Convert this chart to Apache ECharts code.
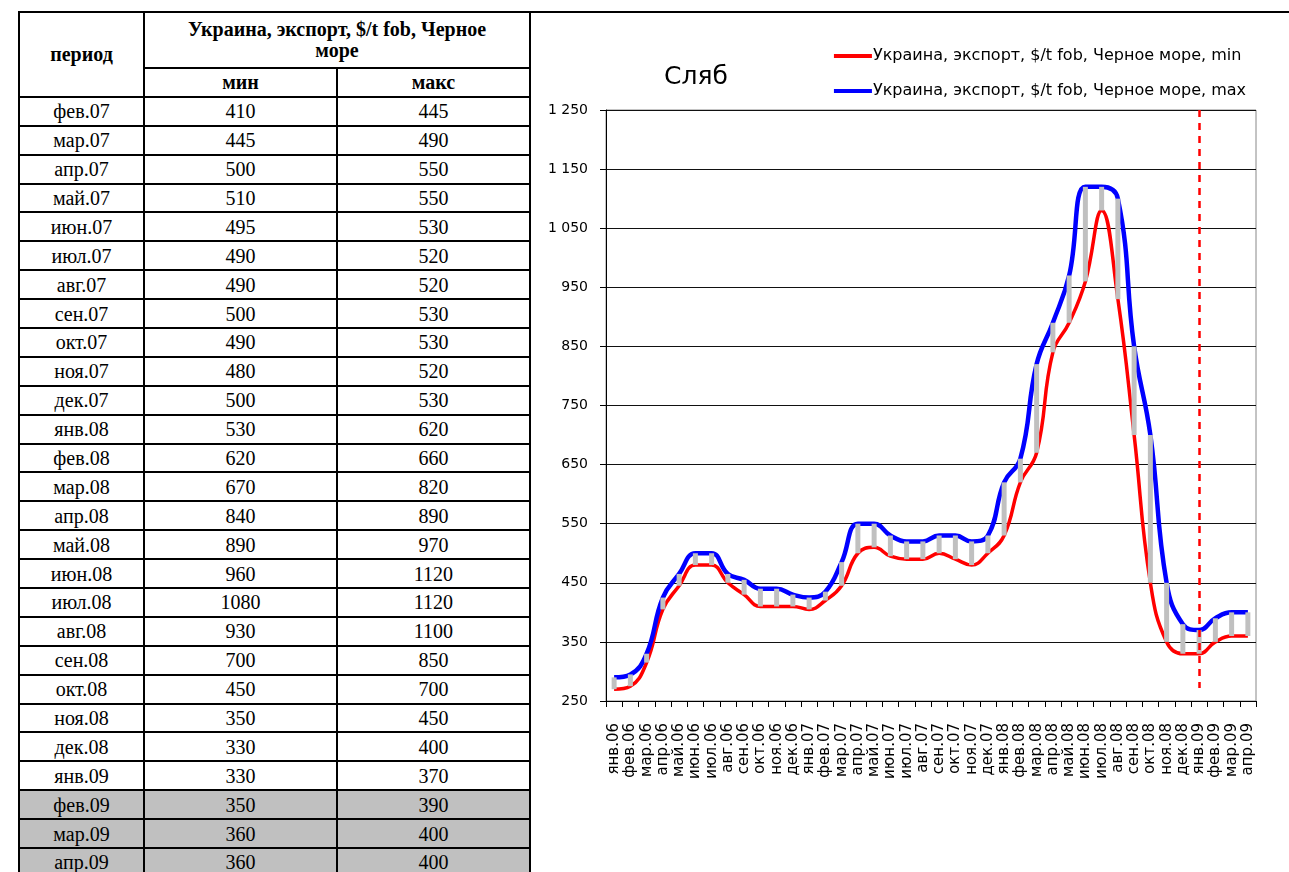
<!DOCTYPE html>
<html>
<head>
<meta charset="utf-8">
<title>Сляб</title>
<script src="https://cdn.jsdelivr.net/npm/echarts@6/dist/echarts.min.js"></script>
<style>
    html, body { margin: 0; padding: 0; background: #fff; }
    body { width: 1289px; height: 872px; position: relative; overflow: hidden; }
    #charts1 { position: absolute; left: 0; top: 0; width: 1289px; height: 872px; }
    .topline { position: absolute; left: 18px; top: 11px; width: 1271px; height: 2px; background: #000; z-index: 3; }
    table.data {
        position: absolute; left: 18px; top: 11px; z-index: 2;
        border-collapse: collapse; table-layout: fixed; width: 511px;
        font-family: "Liberation Serif", "Times New Roman", serif; font-size: 20px; color: #000;
        background: #fff;
    }
    table.data td, table.data th { border: 2px solid #000; text-align: center; padding: 0; height: 26.9px; line-height: 22px; }
    table.data th { font-weight: bold; }
    table.data tr.grey td { background: #c0c0c0; }
</style>
</head>
<body>
<div class="topline"></div>
<table class="data" id="table1">
    <colgroup><col style="width:125px"><col style="width:193px"><col style="width:193px"></colgroup>
    <thead>
        <tr><th rowspan="2" style="height:82px">период</th><th colspan="2" style="height:54px;line-height:21px">Украина, экспорт, $/t fob, Черное<br>море</th></tr>
        <tr><th style="height:26px">мин</th><th>макс</th></tr>
    </thead>
    <tbody></tbody>
</table>
<div id="charts1"></div>
<script>
//категории графика
const months = ['янв.06', 'фев.06', 'мар.06', 'апр.06', 'май.06', 'июн.06', 'июл.06', 'авг.06', 'сен.06', 'окт.06', 'ноя.06', 'дек.06',
    'янв.07', 'фев.07', 'мар.07', 'апр.07', 'май.07', 'июн.07', 'июл.07', 'авг.07', 'сен.07', 'окт.07', 'ноя.07', 'дек.07',
    'янв.08', 'фев.08', 'мар.08', 'апр.08', 'май.08', 'июн.08', 'июл.08', 'авг.08', 'сен.08', 'окт.08', 'ноя.08', 'дек.08',
    'янв.09', 'фев.09', 'мар.09', 'апр.09'];
//значения на графике
const minVals = [270, 275, 315, 405, 445, 480, 480, 450, 430, 410, 410, 410,
    405, 420, 445, 500, 510, 495, 490, 490, 500, 490, 480, 500,
    530, 620, 670, 840, 890, 960, 1080, 930, 700, 450, 350, 330,
    330, 350, 360, 360];
const maxVals = [290, 295, 330, 425, 465, 500, 500, 465, 455, 440, 440, 430,
    425, 435, 485, 550, 550, 530, 520, 520, 530, 530, 520, 530,
    620, 660, 820, 890, 970, 1120, 1120, 1100, 850, 700, 450, 380,
    370, 390, 400, 400];
//таблица
const tablePeriods = months.slice(13);
const tableMin = [410, 445, 500, 510, 495, 490, 490, 500, 490, 480, 500,
    530, 620, 670, 840, 890, 960, 1080, 930, 700, 450, 350, 330,
    330, 350, 360, 360];
const tableMax = [445, 490, 550, 550, 530, 520, 520, 530, 530, 520, 530,
    620, 660, 820, 890, 970, 1120, 1120, 1100, 850, 700, 450, 400,
    370, 390, 400, 400];
const greyRows = ['фев.09', 'мар.09', 'апр.09'];
//оси
const yMin = 250;
const yMax = 1250;
const yStep = 100;
//пунктир прогноза
const markMonth = 'янв.09';
const markTop = 1250;
const markBottom = 272;

const nameMin = 'Украина, экспорт, $/t fob, Черное море, min';
const nameMax = 'Украина, экспорт, $/t fob, Черное море, max';

renderTable();
let charts1 = echarts.init(document.getElementById('charts1'));
renderCharts1();

//таблица слева
function renderTable() {
    let html = '';
    for (let i = 0; i < tablePeriods.length; i++) {
        let cls = greyRows.indexOf(tablePeriods[i]) >= 0 ? ' class="grey"' : '';
        html += '<tr' + cls + '><td>' + tablePeriods[i] + '</td><td>' + tableMin[i] + '</td><td>' + tableMax[i] + '</td></tr>';
    }
    document.querySelector('#table1 tbody').innerHTML = html;
}

//1 250
function fmt(v) {
    let s = String(v);
    if (s.length > 3) s = s.slice(0, s.length - 3) + ' ' + s.slice(-3);
    return s;
}

function renderCharts1() {
    let spread = maxVals.map(function (v, i) { return v - minVals[i]; });
    let option = {
        animation: false,
        title: {
            text: 'Сляб',
            left: 659,
            top: 60,
            textStyle: { fontFamily: 'DejaVu Sans', fontSize: 25, fontWeight: 'normal', color: '#000' }
        },
        legend: {
            data: [
                { name: nameMin, icon: 'rect' },
                { name: nameMax, icon: 'rect' }
            ],
            orient: 'vertical',
            right: 38,
            top: 43,
            itemGap: 19,
            itemWidth: 38,
            itemHeight: 4,
            textStyle: { fontFamily: 'DejaVu Sans', fontSize: 16, color: '#000', padding: [0, 0, 0, -4] }
        },
        grid: {
            left: 606,
            right: 33,
            top: 110,
            bottom: 171,
            show: true,
            borderColor: '#888',
            borderWidth: 1
        },
        xAxis: {
            type: 'category',
            data: months,
            boundaryGap: true,
            axisLine: { lineStyle: { color: '#000', width: 1 } },
            axisTick: { show: true, length: 6, interval: 0, lineStyle: { color: '#000' } },
            axisLabel: {
                interval: 0,
                rotate: 90,
                margin: 22,
                color: '#000',
                fontFamily: 'DejaVu Sans',
                fontSize: 15
            }
        },
        yAxis: {
            type: 'value',
            min: yMin,
            max: yMax,
            interval: yStep,
            axisLine: { show: true, lineStyle: { color: '#000', width: 1 } },
            axisTick: { show: true, length: 6, lineStyle: { color: '#000' } },
            axisLabel: {
                margin: 18,
                color: '#000',
                fontFamily: 'DejaVu Sans',
                fontSize: 14,
                formatter: fmt
            },
            splitLine: { lineStyle: { color: '#111', width: 1 } }
        },
        series: [
            {
                name: nameMin,
                type: 'line',
                data: minVals,
                smooth: 0.45,
                symbol: 'none',
                z: 2,
                itemStyle: { color: '#ff0000' },
                lineStyle: { color: '#ff0000', width: 3.5 },
                markLine: {
                    silent: true,
                    symbol: 'none',
                    label: { show: false },
                    lineStyle: { color: '#ff0000', width: 2.5, type: [7, 6] },
                    data: [[{ xAxis: markMonth, yAxis: markTop }, { xAxis: markMonth, yAxis: markBottom }]]
                }
            },
            {
                name: nameMax,
                type: 'line',
                data: maxVals,
                smooth: 0.45,
                symbol: 'none',
                z: 2,
                itemStyle: { color: '#0000ff' },
                lineStyle: { color: '#0000ff', width: 4.5 }
            },
            {
                name: 'base',
                type: 'bar',
                stack: 'hl',
                data: minVals,
                barWidth: 5,
                z: 3,
                itemStyle: { color: 'rgba(0,0,0,0)' }
            },
            {
                name: 'range',
                type: 'bar',
                stack: 'hl',
                data: spread,
                barWidth: 5,
                z: 3,
                itemStyle: { color: '#c0c0c0' }
            }
        ]
    };
    charts1.setOption(option);
}
</script>
</body>
</html>
